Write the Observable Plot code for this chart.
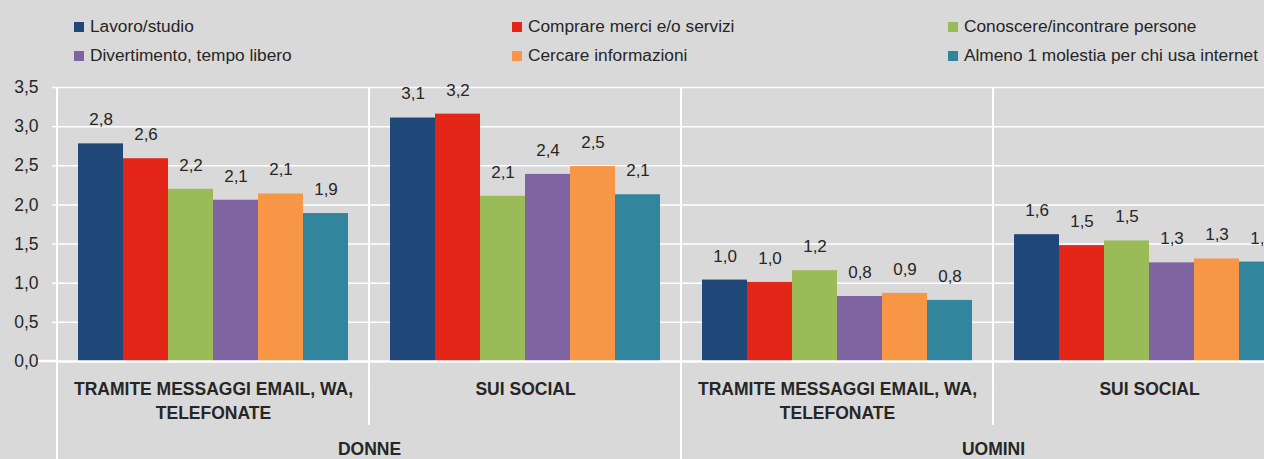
<!DOCTYPE html>
<html><head><meta charset="utf-8">
<script src="https://cdn.jsdelivr.net/npm/d3@7"></script>
<script src="https://cdn.jsdelivr.net/npm/@observablehq/plot@0.6"></script>
<style>
html,body{margin:0;padding:0;background:#d9d9d9;overflow:hidden;width:1264px;height:459px}
#wrap{position:relative;width:1264px;height:459px;overflow:hidden}
#chart{position:absolute;left:0;top:0}
.item{position:absolute;font-family:"Liberation Sans",Arial,sans-serif;font-size:17.3px;color:#262626;display:flex;align-items:center;white-space:nowrap;line-height:1}
.sw{width:10px;height:10px;margin-right:6px;flex:none}
</style></head>
<body><div id="wrap"><div id="chart"></div><div id="legend"></div></div>
<script>
const FONT = '"Liberation Sans",Arial,sans-serif';
const series = ["Lavoro/studio","Comprare merci e/o servizi","Conoscere/incontrare persone","Divertimento, tempo libero","Cercare informazioni","Almeno 1 molestia per chi usa internet"];
const colors = ["#1f4778","#e42619","#9bbb59","#8064a2","#f79646","#31859c"];
const groups = ["D-MSG","D-SOC","U-MSG","U-SOC"];
const groupLabels = ["TRAMITE MESSAGGI EMAIL, WA,\nTELEFONATE","SUI SOCIAL","TRAMITE MESSAGGI EMAIL, WA,\nTELEFONATE","SUI SOCIAL"];
const genders = ["DONNE","UOMINI"];
const genderFirstGroup = ["D-MSG","U-MSG"];
const donneMessaggi = [2.78,2.59,2.20,2.06,2.14,1.89];
const donneSocial   = [3.11,3.16,2.11,2.39,2.49,2.13];
const uominiMessaggi= [1.04,1.01,1.16,0.83,0.87,0.78];
const uominiSocial  = [1.62,1.48,1.54,1.26,1.31,1.27];
const yTicks = [0,0.5,1,1.5,2,2.5,3,3.5];

// legend layout: row-major, 3 columns
const legendCols = [74,512,948];
const legendRows = [27,56];

const valuesByGroup = [donneMessaggi, donneSocial, uominiMessaggi, uominiSocial];
const data = [];
groups.forEach((g,gi)=>series.forEach((s,si)=>data.push({group:g,series:s,value:valuesByGroup[gi][si]})));
const groupData = groups.map((g,i)=>({group:g,label:groupLabels[i]}));
const genderData = genders.map((t,i)=>({group:genderFirstGroup[i],label:t}));
const fmt = v => v.toFixed(1).replace(".",",");

const plot = Plot.plot({
  width: 1305, height: 459,
  marginTop: 87, marginBottom: 98, marginLeft: 57, marginRight: 0,
  style: {background:"transparent", fontFamily: FONT, fontSize:"17px", color:"#262626", overflow:"visible"},
  fx: {domain: groups, padding: 0, axis: null, round: false},
  x: {domain: series, paddingInner: 0, paddingOuter: 0.467, axis: null, round: false},
  y: {domain: [0,3.5], axis: null},
  color: {domain: series, range: colors},
  marks: [
    Plot.ruleY(yTicks.filter(d=>d>0), {stroke:"white", strokeWidth:1.5}),
    Plot.barY(data, {fx:"group", x:"series", y:"value", fill:"series"}),
    Plot.text(data, {fx:"group", x:"series", y:"value", text: d=>fmt(d.value), dy:-24, fontSize:17, fill:"#262626"}),
    Plot.axisY({ticks: yTicks, tickFormat: fmt, tickSize: 5, tickPadding: 14, stroke:"white", strokeWidth:1.5, fontSize:17.5, fill:"#262626", label:null}),
    Plot.ruleY([0], {stroke:"white", strokeWidth:2.5}),
    Plot.text(groupData, {fx:"group", text:"label", frameAnchor:"bottom", lineAnchor:"top", dy:17, lineHeight:1.35, fontWeight:"bold", fontSize:17.5, fill:"#262626"}),
    Plot.text(genderData, {fx:"group", text:"label", frameAnchor:"bottom-right", textAnchor:"middle", lineAnchor:"top", dy:81, fontWeight:"bold", fontSize:17.5, fill:"#262626"})
  ]
});
plot.style.maxWidth = "none";
plot.setAttribute("width", 1305);
plot.style.width = "1305px";
plot.style.height = "459px";
document.getElementById("chart").appendChild(plot);

// separators and baseline extension, positioned through Plot's own scales
const fx = plot.scale("fx"), y = plot.scale("y");
const svg = d3.select(plot);
const bounds = groups.map(g=>fx.apply(g)).concat([fx.apply(groups[groups.length-1]) + fx.bandwidth]);
const g = svg.append("g").attr("stroke","white");
bounds.forEach((b,i)=>{
  const major = i % 2 === 0;
  g.append("line").attr("x1",b).attr("x2",b).attr("y1",y.apply(3.5)).attr("y2", major ? 459 : 425).attr("stroke-width",2);
});
g.append("line").attr("x1",bounds[0]-19).attr("x2",bounds[0]).attr("y1",y.apply(0)).attr("y2",y.apply(0)).attr("stroke-width",2.5);

// legend
const leg = document.getElementById("legend");
series.forEach((s,i)=>{
  const d = document.createElement("div");
  d.className = "item";
  d.style.left = legendCols[i%3] + "px";
  d.style.top = (legendRows[Math.floor(i/3)] - 9) + "px";
  d.style.height = "18px";
  d.innerHTML = `<span class="sw" style="background:${colors[i]}"></span><span>${s}</span>`;
  leg.appendChild(d);
});
</script></body></html>
